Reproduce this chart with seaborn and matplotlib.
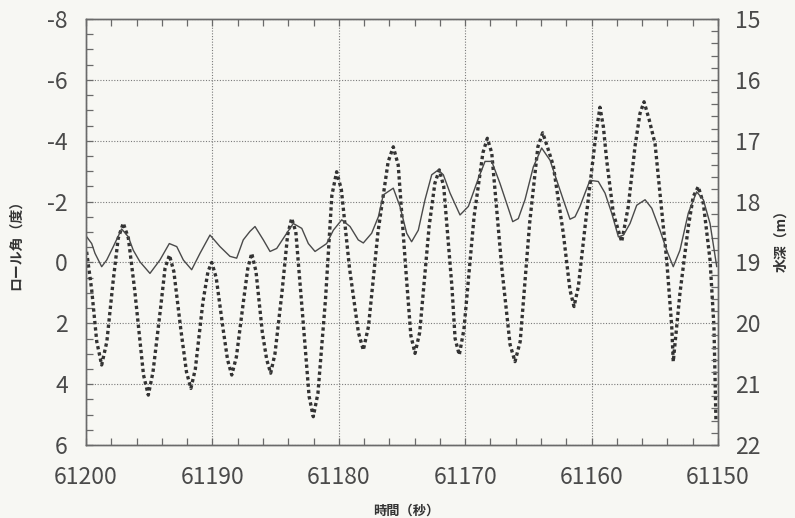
import pandas as pd
import seaborn as sns
import matplotlib.pyplot as plt
from matplotlib.ticker import MultipleLocator

# roll angle (deg)
roll_time = [
    61199.95, 61199.55, 61199.15, 61198.76, 61198.35, 61197.85, 61197.45, 61197.05,
    61196.65, 61196.15, 61195.45, 61195.07, 61194.70, 61194.10, 61193.75, 61193.40,
    61193.05, 61192.50, 61192.05, 61191.70, 61191.35, 61190.75, 61190.35, 61190.05,
    61189.70, 61189.15, 61188.80, 61188.47, 61188.10, 61187.55, 61187.20, 61186.89,
    61186.55, 61186.05, 61185.70, 61185.39, 61185.05, 61184.50, 61184.05, 61183.73,
    61183.40, 61182.85, 61182.35, 61182.02, 61181.65, 61181.05, 61180.55, 61180.17,
    61179.80, 61179.15, 61178.45, 61178.06, 61177.65, 61176.90, 61176.10, 61175.69,
    61175.30, 61174.65, 61174.30, 61173.97, 61173.60, 61172.85, 61172.40, 61172.05,
    61171.70, 61171.05, 61170.80, 61170.47, 61170.10, 61169.30, 61168.60, 61168.25,
    61167.90, 61167.10, 61166.45, 61166.06, 61165.65, 61164.90, 61164.25, 61163.87,
    61163.50, 61163.03, 61162.63, 61162.24, 61161.71, 61161.39, 61161.05, 61160.52,
    61159.99, 61159.65, 61159.34, 61159.07, 61158.81, 61158.28, 61157.62, 61157.10,
    61156.57, 61156.17, 61155.85, 61155.45, 61154.98, 61154.59, 61154.06, 61153.66,
    61153.54, 61153.01, 61152.35, 61151.96, 61151.56, 61151.16, 61150.63, 61150.32,
    61150.16,
]
roll_deg = [
    -0.35, 0.9, 2.6, 3.37, 2.6, 0.6, -0.8, -1.29,
    -0.8, 0.9, 3.7, 4.36, 3.6, 1.5, 0.2, -0.24,
    0.3, 2.2, 3.6, 4.14, 3.5, 1.3, 0.3, 0.0,
    0.5, 2.2, 3.2, 3.70, 3.1, 1.3, 0.2, -0.30,
    0.3, 2.3, 3.2, 3.64, 3.0, 1.0, -0.9, -1.45,
    -1.0, 1.8, 4.4, 5.07, 4.3, 1.2, -2.2, -2.98,
    -2.4, 0.2, 2.3, 2.88, 2.1, -1.0, -3.3, -3.80,
    -3.2, 0.5, 2.4, 2.99, 2.3, -1.2, -2.6, -3.04,
    -2.5, 0.8, 2.5, 3.04, 2.2, -1.5, -3.6, -4.08,
    -3.6, 0.2, 2.7, 3.26, 2.6, -1.3, -3.8, -4.26,
    -3.8, -3.18, -2.05, -0.96, 0.91, 1.45, 0.8, -1.17,
    -3.04, -4.24, -5.10, -4.46, -3.37, -1.61, -0.68, -1.83,
    -3.80, -4.90, -5.28, -4.7, -3.9, -2.27, -0.08, 2.11,
    3.26, 1.01, -1.17, -2.16, -2.49, -1.94, -0.08, 2.11,
    5.23,
]

# water depth (m)
depth_time = [
    61199.94, 61199.55, 61199.29, 61198.76, 61198.36, 61197.84, 61197.18, 61196.65,
    61196.26, 61195.73, 61194.94, 61194.15, 61193.41, 61192.82, 61192.30, 61191.64,
    61190.98, 61190.19, 61189.40, 61188.61, 61188.08, 61187.56, 61187.03, 61186.63,
    61185.97, 61185.44, 61184.91, 61184.12, 61183.60, 61182.93, 61182.41, 61181.88,
    61180.96, 61180.43, 61179.77, 61179.11, 61178.46, 61178.06, 61177.40, 61176.87,
    61176.48, 61175.69, 61175.16, 61174.63, 61174.24, 61173.71, 61173.18, 61172.65,
    61172.13, 61171.73, 61171.20, 61170.41, 61169.75, 61168.96, 61168.43, 61167.90,
    61167.25, 61166.72, 61166.24, 61165.80, 61165.27, 61164.61, 61163.95, 61163.29,
    61162.76, 61162.24, 61161.71, 61161.31, 61160.92, 61160.52, 61160.13, 61159.47,
    61158.94, 61158.41, 61157.88, 61157.48, 61156.96, 61156.43, 61155.77, 61155.24,
    61154.59, 61154.06, 61153.54, 61153.01, 61152.35, 61151.69, 61151.16, 61150.63,
    61150.10,
]
depth_m = [
    18.58, 18.69, 18.85, 19.07, 18.96, 18.74, 18.45, 18.58,
    18.80, 18.99, 19.18, 18.96, 18.69, 18.74, 18.96, 19.12,
    18.85, 18.55, 18.74, 18.90, 18.93, 18.63, 18.49, 18.41,
    18.63, 18.82, 18.77, 18.52, 18.36, 18.44, 18.69, 18.82,
    18.69, 18.47, 18.30, 18.41, 18.63, 18.68, 18.52, 18.25,
    17.89, 17.78, 18.08, 18.52, 18.66, 18.47, 17.97, 17.56,
    17.48, 17.56, 17.86, 18.22, 18.08, 17.62, 17.34, 17.34,
    17.70, 18.03, 18.33, 18.28, 17.97, 17.43, 17.12, 17.32,
    17.65, 17.97, 18.29, 18.25, 18.08, 17.86, 17.65, 17.67,
    17.86, 18.19, 18.58, 18.55, 18.36, 18.06, 17.97, 18.11,
    18.47, 18.80, 19.07, 18.80, 18.19, 17.84, 17.97, 18.36,
    19.07,
]

roll = pd.DataFrame({"time": roll_time, "roll": roll_deg})
depth = pd.DataFrame({"time": depth_time, "depth": depth_m})

sns.set_theme(style="ticks")
plt.rcParams["font.family"] = ["Noto Sans CJK JP", "DejaVu Sans"]
plt.rcParams["axes.unicode_minus"] = False

paper = "#f7f7f3"
ink = "#333333"
frame = "#6a6a6a"

fig = plt.figure(figsize=(7.95, 5.18), dpi=100, facecolor=paper)
ax = fig.add_axes([86 / 795, 1 - 445 / 518, 632 / 795, 426 / 518])
ax.set_facecolor(paper)
ax2 = ax.twinx()

sns.lineplot(data=depth, x="time", y="depth", ax=ax2, color="#4a4a4a",
             lw=1.0, estimator=None, sort=False)
sns.lineplot(data=roll, x="time", y="roll", ax=ax, color=ink,
             lw=2.4, linestyle=(0, (1, 0.9)), estimator=None, sort=False)

ax.set_xlim(61200, 61150)
ax.set_ylim(6, -8)
ax2.set_ylim(22, 15)

ax.set_xticks(range(61200, 61149, -10))
ax.xaxis.set_minor_locator(MultipleLocator(2))
ax.set_yticks(range(-8, 7, 2))
ax.yaxis.set_minor_locator(MultipleLocator(0.5))
ax2.set_yticks(range(15, 23))
ax2.yaxis.set_minor_locator(MultipleLocator(0.2))

ax.grid(True, which="major", color="#7a7a7a", lw=0.8, ls=(0, (1, 1.5)))

for a in (ax, ax2):
    for s in a.spines.values():
        s.set_color(frame)
        s.set_linewidth(1.0)
    a.tick_params(which="both", direction="in", colors=frame, labelcolor="#4a4a4a",
                  labelsize=16.5)
    a.tick_params(which="major", length=5, width=0.9)
    a.tick_params(which="minor", length=5, width=0.9)

ax.tick_params(axis="x", which="both", top=True, pad=15)
ax.tick_params(axis="y", which="both", pad=13)
ax2.tick_params(axis="y", which="both", pad=12)

ax.set_xlabel("")
ax2.set_ylabel("")
ax.set_ylabel("")
fig.text(16 / 795, 1 - 241 / 518, "ロール角（度）", rotation=90, ha="center", va="center",
         fontsize=10, fontweight="bold", color="#333333")
fig.text(781 / 795, 1 - 237 / 518, "水深（m）", rotation=90, ha="center", va="center",
         fontsize=10, fontweight="bold", color="#333333")
fig.text(406 / 795, 1 - 511 / 518, "時間（秒）", ha="center", va="center",
         fontsize=9.5, fontweight="bold", color="#333333")

fig.savefig("out.png", dpi=100, facecolor=paper)
